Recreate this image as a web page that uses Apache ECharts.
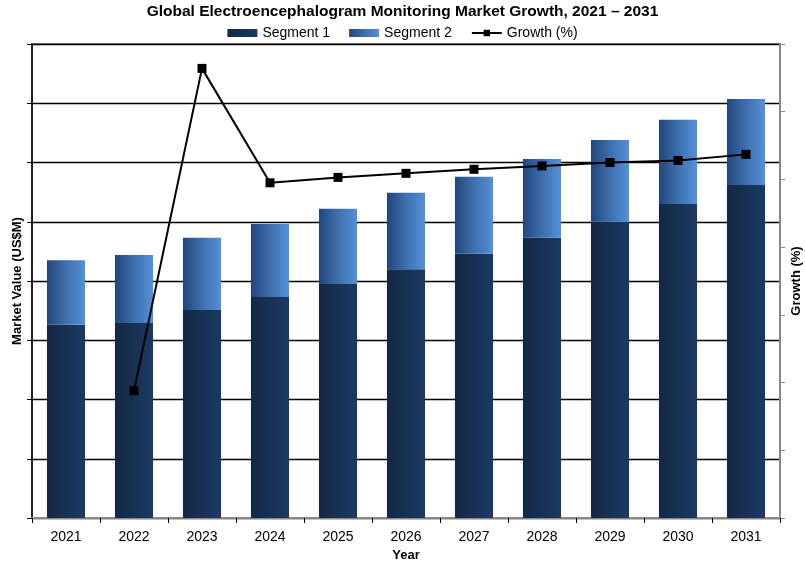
<!DOCTYPE html>
<html>
<head>
<meta charset="utf-8">
<script src="https://cdn.jsdelivr.net/npm/echarts@6/dist/echarts.min.js"></script>
<style>html,body{margin:0;padding:0;background:#fff}#c{width:805px;height:563px}</style>
</head>
<body>
<div id="c"></div>
<script>
var years = ['2021','2022','2023','2024','2025','2026','2027','2028','2029','2030','2031'];
var segment1 = [3.26, 3.29, 3.51, 3.73, 3.95, 4.20, 4.46, 4.73, 5.00, 5.30, 5.62];
var segment2 = [1.09, 1.15, 1.22, 1.23, 1.27, 1.29, 1.30, 1.33, 1.38, 1.42, 1.45];
var growth = [null, 1.88, 6.64, 4.95, 5.03, 5.09, 5.15, 5.20, 5.25, 5.28, 5.37];

var FONT = '"Liberation Sans", Arial, sans-serif';
var chart = echarts.init(document.getElementById('c'), null, {renderer: 'canvas'});
var seg1Color = {type: 'linear', x: 0, y: 0, x2: 1, y2: 0, colorStops: [
  {offset: 0, color: '#132845'}, {offset: 1, color: '#1b3a62'}]};
var seg2Color = {type: 'linear', x: 0, y: 0, x2: 1, y2: 0, colorStops: [
  {offset: 0, color: '#21467a'}, {offset: 0.5, color: '#3d6fae'}, {offset: 1, color: '#5690d8'}]};

chart.setOption({
  animation: false,
  textStyle: {fontFamily: FONT},
  title: {
    text: 'Global Electroencephalogram Monitoring Market Growth, 2021 \u2013 2031',
    left: 'center', top: -1,
    textStyle: {fontFamily: FONT, fontSize: 15.5, fontWeight: 'bold', color: '#000'}
  },
  legend: {
    top: 21, left: 'center', itemGap: 19,
    itemWidth: 30, itemHeight: 8,
    textStyle: {fontFamily: FONT, fontSize: 14, color: '#000'},
    data: [
      {name: 'Segment 1', icon: 'rect'},
      {name: 'Segment 2', icon: 'rect'},
      {name: 'Growth (%)'}
    ]
  },
  grid: {left: 32, right: 25, top: 44, bottom: 45, outerBoundsMode: 'none', containLabel: false,
    show: true, borderColor: '#888', borderWidth: 2, backgroundColor: 'transparent'},
  xAxis: {
    type: 'category', data: years, boundaryGap: true,
    name: 'Year', nameLocation: 'middle', nameGap: 31,
    nameTextStyle: {fontFamily: FONT, fontSize: 13, fontWeight: 'bold', color: '#000'},
    axisLine: {lineStyle: {color: '#888', width: 2}},
    axisTick: {show: true, length: 5, lineStyle: {color: '#000'}},
    axisLabel: {fontFamily: FONT, fontSize: 14, color: '#000', margin: 12}
  },
  yAxis: [{
    type: 'value', min: 0, max: 8, interval: 1,
    name: 'Market Value (US$M)', nameLocation: 'middle', nameGap: 8, nameRotate: 90,
    nameTextStyle: {fontFamily: FONT, fontSize: 13, fontWeight: 'bold', color: '#000'},
    axisLine: {show: true, lineStyle: {color: '#000', width: 1.5}},
    axisTick: {show: true, length: 5, lineStyle: {color: '#000'}},
    axisLabel: {show: false},
    splitLine: {show: true, lineStyle: {color: '#000', width: 1.3}}
  }, {
    type: 'value', min: 0, max: 7, interval: 1,
    name: 'Growth (%)', nameLocation: 'middle', nameGap: 10, nameRotate: 90,
    nameTextStyle: {fontFamily: FONT, fontSize: 13, fontWeight: 'bold', color: '#000', verticalAlign: 'top'},
    axisLine: {show: true, lineStyle: {color: '#888', width: 2}},
    axisTick: {show: true, length: 5, lineStyle: {color: '#888'}},
    axisLabel: {show: false},
    splitLine: {show: false}
  }],
  series: [{
    name: 'Segment 1', type: 'bar', stack: 'mv', data: segment1,
    barWidth: '56%', itemStyle: {color: seg1Color}
  }, {
    name: 'Segment 2', type: 'bar', stack: 'mv', data: segment2,
    barWidth: '56%', itemStyle: {color: seg2Color}
  }, {
    name: 'Growth (%)', type: 'line', yAxisIndex: 1, data: growth,
    symbol: 'rect', symbolSize: 9, connectNulls: false,
    lineStyle: {color: '#000', width: 2}, itemStyle: {color: '#000'}
  }]
});
</script>
</body>
</html>
